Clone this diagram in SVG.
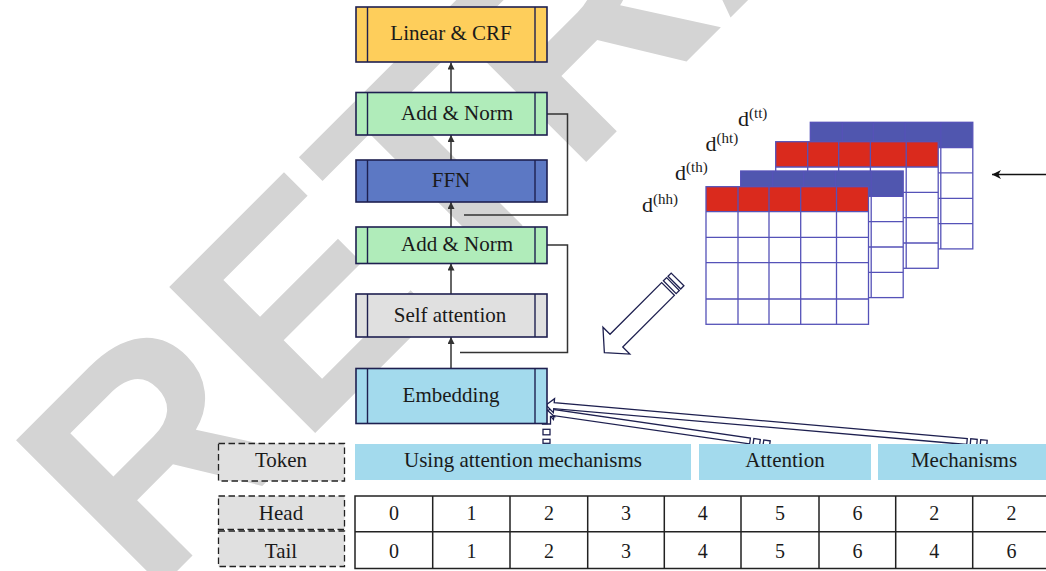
<svg xmlns="http://www.w3.org/2000/svg" xmlns:xlink="http://www.w3.org/1999/xlink" width="1046" height="571" viewBox="0 0 1046 571">
<style>
.box{stroke:#1e2050;stroke-width:1.6}
.bar{stroke:#1e2050;stroke-width:1.4}
.t{font-family:"Liberation Serif",serif;font-size:21px;fill:#1a1a1a;text-anchor:middle}
.n{font-family:"Liberation Serif",serif;font-size:20px;fill:#1a1a1a;text-anchor:middle}
.d{font-family:"Liberation Serif",serif;font-size:22px;fill:#1a1a1a}
.sup{font-size:15px}
.con{fill:none;stroke:#333;stroke-width:1.5}
.hol{fill:#fff;stroke:#1e2050;stroke-width:1.3}
.grid{fill:none;stroke:#5552b8;stroke-width:1.3}
.dash{fill:#e0e0e0;stroke:#222;stroke-width:1.3;stroke-dasharray:6.5 3.5}
.tok{fill:#a3daed}
.tl{stroke:#222;stroke-width:1.5}
.red{fill:#da2a1d}
.blu{fill:#5056af}
</style>
<defs>
<marker id="ah" viewBox="0 0 10 10" refX="10" refY="5" markerWidth="7" markerHeight="7" markerUnits="userSpaceOnUse" orient="auto">
<path d="M0,0 L10,5 L0,10 z" fill="#333"/>
</marker>
<marker id="ah2" viewBox="0 0 10 10" refX="10" refY="5" markerWidth="11" markerHeight="9" markerUnits="userSpaceOnUse" orient="auto">
<path d="M0,0 L10,5 L0,10 L3,5 z" fill="#111"/>
</marker>
<g id="grid5">
<rect x="0" y="0" width="162.5" height="126.6"/>
<path d="M32,0V126.6M63,0V126.6M94.7,0V126.6M130.5,0V126.6M0,25.3H162.5M0,50.6H162.5M0,76H162.5M0,101.3H162.5"/>
</g>
<g id="gridF">
<rect x="0" y="0" width="162.5" height="137.6"/>
<path d="M32,0V137.6M63,0V137.6M94.7,0V137.6M130.5,0V137.6M0,25H162.5M0,50.6H162.5M0,76H162.5M0,112.3H162.5"/>
</g>
</defs>
<rect width="1046" height="571" fill="#fff"/>
<text transform="rotate(-45)" x="-320" y="529" font-family="Liberation Sans, sans-serif" font-weight="bold" font-size="300" fill="#d4d4d4">RETRACTED</text>

<g id="connectors">
<line class="con" x1="451" y1="92.5" x2="451" y2="62.5" marker-end="url(#ah)"/>
<line class="con" x1="451" y1="160" x2="451" y2="135" marker-end="url(#ah)"/>
<line class="con" x1="451" y1="227" x2="451" y2="202" marker-end="url(#ah)"/>
<line class="con" x1="451" y1="294" x2="451" y2="263.5" marker-end="url(#ah)"/>
<line class="con" x1="451" y1="368.5" x2="451" y2="337" marker-end="url(#ah)"/>
<polyline class="con" points="547,114 567.5,114 567.5,215 464,215"/>
<polyline class="con" points="547,245 567.5,245 567.5,352.5 460,352.5"/>
<line x1="1046" y1="174.5" x2="992" y2="174.5" stroke="#111" stroke-width="1.3" marker-end="url(#ah2)"/>
<g transform="translate(668,289) rotate(135)">
<polygon class="hol" points="0,-9 73,-9 73,-19 90,0 73,19 73,9 0,9"/>
<rect class="hol" x="-7" y="-9" width="4.5" height="18"/>
<rect class="hol" x="-13.5" y="-9" width="4.5" height="18"/>
</g>
<g transform="translate(750,441) rotate(188.25)">
<polygon class="hol" points="0,-3 197.6,-3 197.6,-7 205.6,0 197.6,7 197.6,3 0,3"/>
<rect class="hol" x="-10" y="-3" width="6.5" height="6"/>
<rect class="hol" x="-20" y="-3" width="6.5" height="6"/>
</g>
<g transform="translate(967,441.5) rotate(184.96)">
<polygon class="hol" points="0,-3 414.6,-3 414.6,-7 422.6,0 414.6,7 414.6,3 0,3"/>
<rect class="hol" x="-10" y="-3" width="6.5" height="6"/>
<rect class="hol" x="-20" y="-3" width="6.5" height="6"/>
</g>
<polygon class="hol" points="546.5,409.5 554.5,416.5 550.5,416.5 550.5,424 542.5,424 542.5,416.5 538.5,416.5"/>
<rect class="hol" x="543" y="429.3" width="7" height="5.5"/>
<rect class="hol" x="543" y="439.3" width="7" height="4"/>
</g>

<g id="node-crf">
<rect class="box" x="356" y="7" width="191" height="55" fill="#fece5b"/>
<line class="bar" x1="367.5" y1="7" x2="367.5" y2="62"/><line class="bar" x1="535" y1="7" x2="535" y2="62"/>
<text class="t" x="451" y="40">Linear &amp; CRF</text>
</g>
<g id="node-addnorm2">
<rect class="box" x="356" y="92.5" width="191" height="42.5" fill="#b0ecba"/>
<line class="bar" x1="367.5" y1="92.5" x2="367.5" y2="135"/><line class="bar" x1="535" y1="92.5" x2="535" y2="135"/>
<text class="t" x="457" y="119.5">Add &amp; Norm</text>
</g>
<g id="node-ffn">
<rect class="box" x="356" y="160" width="191" height="42" fill="#5c78c4"/>
<line class="bar" x1="367.5" y1="160" x2="367.5" y2="202"/><line class="bar" x1="535" y1="160" x2="535" y2="202"/>
<text class="t" x="451" y="186.5">FFN</text>
</g>
<g id="node-addnorm1">
<rect class="box" x="356" y="227" width="191" height="36.5" fill="#b0ecba"/>
<line class="bar" x1="367.5" y1="227" x2="367.5" y2="263.5"/><line class="bar" x1="535" y1="227" x2="535" y2="263.5"/>
<text class="t" x="457" y="250.5">Add &amp; Norm</text>
</g>
<g id="node-selfatt">
<rect class="box" x="356" y="294" width="191" height="43" fill="#e0e0e0"/>
<line class="bar" x1="367.5" y1="294" x2="367.5" y2="337"/><line class="bar" x1="535" y1="294" x2="535" y2="337"/>
<text class="t" x="450" y="322">Self attention</text>
</g>
<g id="node-embedding">
<rect class="box" x="356" y="368.5" width="191" height="55" fill="#a3daed"/>
<line class="bar" x1="367.5" y1="368.5" x2="367.5" y2="423.5"/><line class="bar" x1="535" y1="368.5" x2="535" y2="423.5"/>
<text class="t" x="451" y="402">Embedding</text>
</g>

<g id="node-matrices">
<rect x="810.3" y="122.3" width="162.5" height="126.6" fill="#fff"/>
<rect class="blu" x="810.3" y="122.3" width="162.5" height="25.3"/>
<use xlink:href="#grid5" class="grid" x="810.3" y="122.3"/>
<rect x="775.7" y="141.7" width="162.5" height="126.6" fill="#fff"/>
<rect class="red" x="775.7" y="141.7" width="162.5" height="25.3"/>
<use xlink:href="#grid5" class="grid" x="775.7" y="141.7"/>
<rect x="740.7" y="171" width="162.5" height="126.6" fill="#fff"/>
<rect class="blu" x="740.7" y="171" width="162.5" height="25.3"/>
<use xlink:href="#grid5" class="grid" x="740.7" y="171"/>
<rect x="706" y="186.7" width="162.5" height="137.6" fill="#fff"/>
<rect class="red" x="706" y="186.7" width="162.5" height="25"/>
<use xlink:href="#gridF" class="grid" x="706" y="186.7"/>
<text class="d" x="642" y="212">d<tspan class="sup" dy="-8.5">(hh)</tspan></text>
<text class="d" x="675" y="180">d<tspan class="sup" dy="-8.5">(th)</tspan></text>
<text class="d" x="705.5" y="151">d<tspan class="sup" dy="-8.5">(ht)</tspan></text>
<text class="d" x="738" y="126">d<tspan class="sup" dy="-8.5">(tt)</tspan></text>
</g>

<g id="node-labels">
<rect class="dash" x="218.5" y="443.5" width="126" height="37.5"/>
<text class="t" x="281" y="467">Token</text>
<rect class="dash" x="218.5" y="496" width="126" height="33.5"/>
<text class="t" x="281" y="520">Head</text>
<rect class="dash" x="218.5" y="531" width="126" height="35.5"/>
<text class="t" x="281" y="558">Tail</text>
</g>

<g id="node-tokens">
<rect class="tok" x="355" y="444" width="336" height="36"/>
<text class="t" x="523" y="467">Using attention mechanisms</text>
<rect class="tok" x="699" y="444" width="172" height="36"/>
<text class="t" x="785" y="467">Attention</text>
<rect class="tok" x="878" y="444" width="170" height="36"/>
<text class="t" x="964" y="467">Mechanisms</text>
</g>

<g id="node-table">
<rect x="355" y="496" width="700" height="72.5" fill="#fff" stroke="#222" stroke-width="1.5"/>
<line class="tl" x1="355" y1="531.7" x2="1050" y2="531.7"/>
<path class="tl" d="M432.7,496V568.5M510,496V568.5M587.7,496V568.5M664.3,496V568.5M741,496V568.5M819,496V568.5M895.7,496V568.5M972.7,496V568.5"/>
<text class="n" x="394" y="520">0</text><text class="n" x="471.4" y="520">1</text><text class="n" x="548.9" y="520">2</text><text class="n" x="626" y="520">3</text><text class="n" x="702.7" y="520">4</text><text class="n" x="780" y="520">5</text><text class="n" x="857.4" y="520">6</text><text class="n" x="934.2" y="520">2</text><text class="n" x="1011.4" y="520">2</text>
<text class="n" x="394" y="558">0</text><text class="n" x="471.4" y="558">1</text><text class="n" x="548.9" y="558">2</text><text class="n" x="626" y="558">3</text><text class="n" x="702.7" y="558">4</text><text class="n" x="780" y="558">5</text><text class="n" x="857.4" y="558">6</text><text class="n" x="934.2" y="558">4</text><text class="n" x="1011.4" y="558">6</text>
</g>
</svg>
